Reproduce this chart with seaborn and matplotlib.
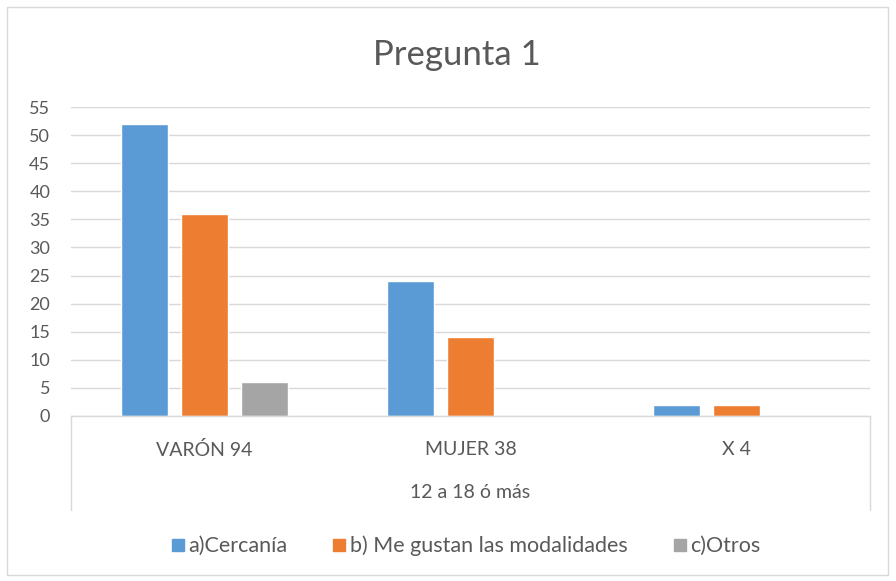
import matplotlib
matplotlib.use("Agg")
import matplotlib.pyplot as plt
import seaborn as sns
import pandas as pd
from matplotlib.patches import Rectangle
from matplotlib.lines import Line2D

categories = ["VARÓN 94", "MUJER 38", "X 4"]
series_names = ["a)Cercanía", "b) Me gustan las modalidades", "c)Otros"]
cercania = [52, 24, 2]
modalidades = [36, 14, 2]
otros = [6, 0, 0]
yticks = list(range(0, 56, 5))
title = "Pregunta 1"
group_label = "12 a 18 ó más"
colors = ["#5B9BD5", "#ED7D31", "#A5A5A5"]

rows = []
for name, vals in zip(series_names, [cercania, modalidades, otros]):
    for c, v in zip(categories, vals):
        rows.append({"cat": c, "serie": name, "valor": v})
df = pd.DataFrame(rows)

sns.set_theme(style="white")
plt.rcParams["font.family"] = ["Lato", "DejaVu Sans"]
txt = "#595959"

fig = plt.figure(figsize=(8.96, 5.81), dpi=100)
ax = fig.add_axes([71/896, 1-416/581, (870-71)/896, (416-107)/581])

sns.barplot(data=df, x="cat", y="valor", hue="serie", hue_order=series_names,
            order=categories, palette=colors, width=0.677, gap=0.22,
            saturation=1, ax=ax, legend=False)

ax.set_ylim(0, 55)
ax.set_yticks(yticks)
ax.set_xlim(-0.5, 2.5)
ax.yaxis.grid(True, color="#D9D9D9", linewidth=1)
ax.set_axisbelow(True)
for s in ["top", "right", "left"]:
    ax.spines[s].set_visible(False)
ax.spines["bottom"].set_color("#D9D9D9")
ax.spines["bottom"].set_linewidth(1)
ax.set_xlabel("")
ax.set_ylabel("")
ax.tick_params(axis="y", length=0, pad=15, labelsize=13, labelcolor=txt)
ax.tick_params(axis="x", length=0, pad=18, labelsize=14, labelcolor=txt)

# multi-level axis lines
for xx in [0, 1]:
    ax.plot([xx, xx], [0, -(510-416)/(416-107)], transform=ax.transAxes,
            color="#D9D9D9", linewidth=1, clip_on=False)
fig.text(0.5*(71+870)/896, 1-493/581, group_label, ha="center", va="center",
         fontsize=14, color=txt)

fig.text(457/896, 1-55/581, title, ha="center", va="center", fontsize=25, color=txt)

handles = [Line2D([0], [0], marker="s", linestyle="", markersize=9,
                  markerfacecolor=c, markeredgecolor=c) for c in colors]
fig.legend(handles, series_names, loc="center", bbox_to_anchor=(465/896, 1-546/581),
           ncol=3, frameon=False, fontsize=15.5, labelcolor=txt,
           handletextpad=0.1, columnspacing=2.0, handlelength=0.8)

fig.patches.append(Rectangle((7/896, 1-575/581), 881/896, 568/581, transform=fig.transFigure,
                             fill=False, edgecolor="#D9D9D9", linewidth=1))

fig.savefig("out.png", dpi=100)
